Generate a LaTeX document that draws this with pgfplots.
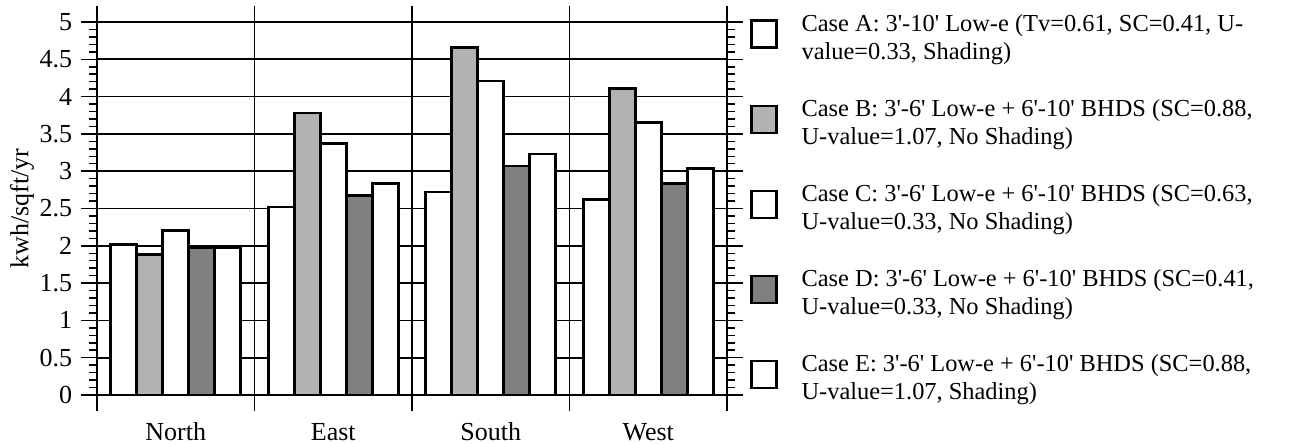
\documentclass[border=0pt]{standalone}
\usepackage{fontspec}
\setmainfont{Liberation Serif}
\usepackage{pgfplots}
\pgfplotsset{compat=1.18}
\newcommand\q{\textquotesingle}

\begin{document}
\fontsize{26bp}{30bp}\selectfont
\begin{tikzpicture}
\useasboundingbox (-97bp,-49bp) rectangle (1218bp,395bp);
\begin{axis}[
  scale only axis, width=630bp, height=373bp,
  ybar=0pt, bar width=26bp,
  xmin=-0.5, xmax=3.5, ymin=0, ymax=5,
  xtick={-0.5,0.5,1.5,2.5,3.5}, xticklabels={},
  extra x ticks={0,1,2,3}, extra x tick labels={North,East,South,West},
  extra x tick style={grid=none, major tick length=0pt},
  xticklabel style={yshift=-18bp, text height=19bp, text depth=0pt},
  ytick={0,0.5,...,5}, minor y tick num=4,
  xmajorgrids, ymajorgrids,
  tick align=outside, major tick length=16bp, minor tick length=8bp,
  axis line style={line width=2.2bp},
  major grid style={black, line width=1.6bp},
  tick style={black, line width=1.5bp},
  tick label style={font=\fontsize{26bp}{30bp}\selectfont},
  label style={font=\fontsize{26bp}{30bp}\selectfont},
  /pgf/number format/assume math mode=true,
  ylabel={kwh/sqft/yr}, ylabel shift=-12bp,
  legend cell align=left,
  legend style={at={(1.0318,1.032)}, anchor=north west, draw=none, fill=none,
    font=\fontsize{24.4bp}{28bp}\selectfont, column sep=22bp, row sep=32.3bp,
    cells={align=left}},
  every axis plot post/.append style={
    legend image code/.code={\draw[##1, line width=2.4bp] (0bp,-9bp) rectangle (25bp,18bp);}},
]
\addplot[draw=black, line width=2.8bp, fill=white]
  coordinates {(0,2.02) (1,2.52) (2,2.72) (3,2.62)};
\addlegendentry{Case A: 3\q-10\q{} Low-e (Tv=0.61, SC=0.41, U-\\value=0.33, Shading)}
\addplot[draw=black, line width=2.8bp, fill=black!30]
  coordinates {(0,1.88) (1,3.78) (2,4.66) (3,4.11)};
\addlegendentry{Case B: 3\q-6\q{} Low-e + 6\q-10\q{} BHDS (SC=0.88,\\U-value=1.07, No Shading)}
\addplot[draw=black, line width=2.8bp, fill=white]
  coordinates {(0,2.21) (1,3.37) (2,4.21) (3,3.65)};
\addlegendentry{Case C: 3\q-6\q{} Low-e + 6\q-10\q{} BHDS (SC=0.63,\\U-value=0.33, No Shading)}
\addplot[draw=black, line width=2.8bp, fill=black!50]
  coordinates {(0,1.97) (1,2.67) (2,3.07) (3,2.84)};
\addlegendentry{Case D: 3\q-6\q{} Low-e + 6\q-10\q{} BHDS (SC=0.41,\\U-value=0.33, No Shading)}
\addplot[draw=black, line width=2.8bp, fill=white]
  coordinates {(0,1.97) (1,2.83) (2,3.23) (3,3.04)};
\addlegendentry{Case E: 3\q-6\q{} Low-e + 6\q-10\q{} BHDS (SC=0.88,\\U-value=1.07, Shading)}
\end{axis}
\end{tikzpicture}
\end{document}
